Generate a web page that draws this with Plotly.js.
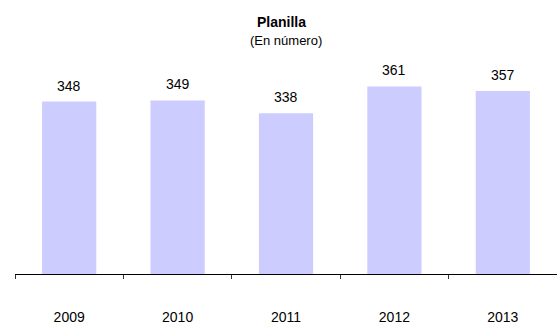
<!DOCTYPE html>
<html>
<head>
<meta charset="utf-8">
<script src="https://cdn.plot.ly/plotly-3.0.1.min.js"></script>
<style>html,body{margin:0;padding:0;background:#fff;}#chart{width:557px;height:327px;}</style>
</head>
<body>
<div id="chart"></div>
<script>
const years = ["2009", "2010", "2011", "2012", "2013"];
const planilla = [348, 349, 338, 361, 357];
const titleText = "Planilla";
const subtitleText = "(En número)";

const FONT = "Liberation Sans, Arial, sans-serif";

const trace = {
  type: "bar",
  x: years,
  y: planilla,
  marker: {color: "#CCCCFF", line: {width: 0}},
  hoverinfo: "none"
};

const annotations = years.map((yr, i) => ({
  x: i, y: planilla[i], xref: "x", yref: "y",
  text: String(planilla[i]), showarrow: false,
  yanchor: "middle", yshift: 16,
  font: {family: FONT, size: 14, color: "#000"}
}));
annotations.push({
  xref: "paper", yref: "paper", x: 0.491, y: 1, yanchor: "middle",
  yshift: 19, text: "<b>" + titleText + "</b>", showarrow: false,
  font: {family: FONT, size: 14, color: "#000"}
});
annotations.push({
  xref: "paper", yref: "paper", x: 0.5, y: 1, yanchor: "middle",
  yshift: 1, text: subtitleText, showarrow: false,
  font: {family: FONT, size: 13, color: "#000"}
});

const layout = {
  width: 557, height: 327,
  margin: {l: 15, r: 0, t: 41, b: 53, pad: 0},
  paper_bgcolor: "#fff", plot_bgcolor: "#fff",
  showlegend: false,
  bargap: 0.5,
  xaxis: {
    type: "category",
    categoryorder: "array", categoryarray: years,
    range: [-0.5, 4.5], autorange: false,
    showline: true, linecolor: "#000", linewidth: 1,
    ticks: "outside", tickson: "boundaries", ticklen: 4, tickcolor: "#333", tickwidth: 1,
    showgrid: false, zeroline: false,
    tickangle: 0,
    ticklabelstandoff: 30,
    tickfont: {family: FONT, size: 14, color: "#000"}
  },
  yaxis: {
    range: [200, 400], autorange: false, visible: false, showgrid: false, zeroline: false
  },
  annotations: annotations
};

Plotly.newPlot("chart", [trace], layout, {staticPlot: true, displayModeBar: false});
</script>
</body>
</html>
